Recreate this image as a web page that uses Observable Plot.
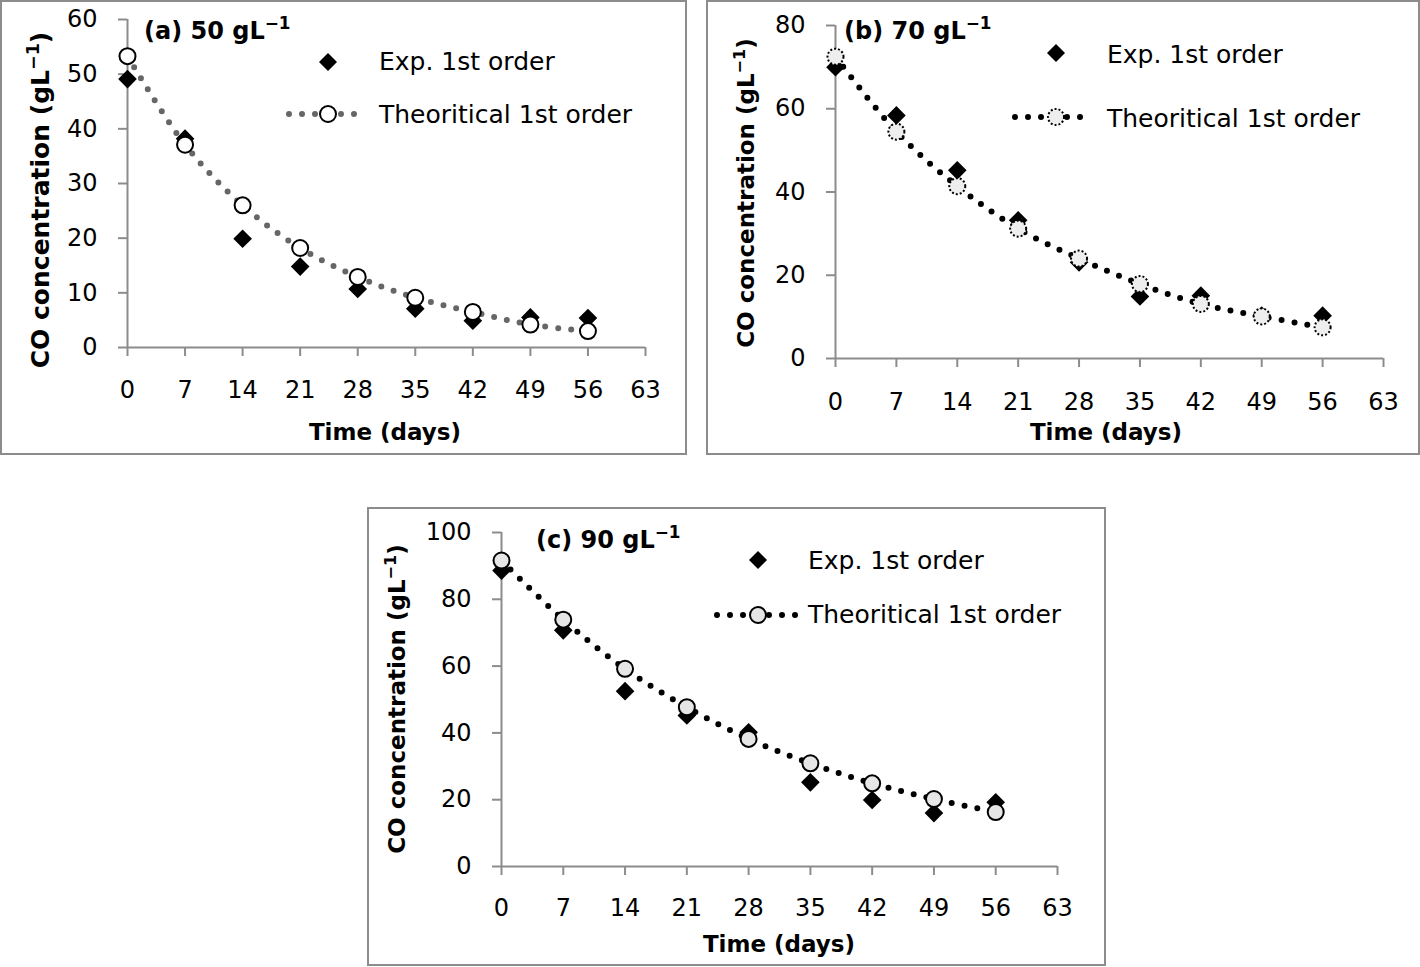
<!DOCTYPE html>
<html><head><meta charset="utf-8">
<script src="https://cdn.jsdelivr.net/npm/d3@7"></script>
<script src="https://cdn.jsdelivr.net/npm/@observablehq/plot@0.6"></script>
<style>
body{margin:0;background:#fff;}
#page{position:relative;width:1420px;height:967px;font-family:"DejaVu Sans",sans-serif;color:#000;overflow:hidden;}
.panel{position:absolute;}
.panel svg{position:absolute;left:0;top:0;}
.frame{position:absolute;left:0;top:0;right:0;bottom:0;border:2px solid #8c8c8c;box-sizing:border-box;pointer-events:none;}
.t{position:absolute;white-space:nowrap;line-height:1;}
.sup{font-size:0.7em;position:relative;top:-0.55em;}
</style></head><body><div id="page"></div>
<script>
// ---- data ----
const days = [0, 7, 14, 21, 28, 35, 42, 49, 56];
const xTicks = [0, 7, 14, 21, 28, 35, 42, 49, 56, 63];
const expA  = [49.1, 38.2, 19.9, 14.8, 10.7, 7.1, 4.9, 5.5, 5.4];
const theoA = [53.3, 37.1, 26.0, 18.2, 12.9, 9.1, 6.5, 4.2, 3.0];
const expB  = [70.0, 58.4, 45.2, 33.2, 23.1, 14.9, 15.1, 10.3, 10.3];
const theoB = [72.5, 54.5, 41.4, 31.2, 24.0, 17.9, 13.1, 10.1, 7.5];
const expC  = [88.6, 70.7, 52.5, 45.2, 40.2, 25.2, 19.9, 16.0, 19.2];
const theoC = [91.6, 73.9, 59.2, 47.7, 38.2, 30.9, 24.9, 20.2, 16.3];
const yTicksA = [0, 10, 20, 30, 40, 50, 60];
const yTicksB = [0, 20, 40, 60, 80];
const yTicksC = [0, 20, 40, 60, 80, 100];
const titles = ["(a) 50 gL", "(b) 70 gL", "(c) 90 gL"];
const supText = "\u22121";
const legendLabels = ["Exp. 1st order", "Theoritical 1st order"];
const xLabel = "Time (days)";
const yLabel = "CO concentration (gL";

// ---- layout ----
const FONT = "DejaVu Sans";
const panels = [
  {exp: expA, theo: theoA, yTicks: yTicksA, ymax: 60, title: titles[0],
   left: 0, top: 0, width: 687, height: 455, mL: 127, mR: 42, mT: 19, mB: 108, padX: 24,
   line: "#666666", cFill: "white", cDash: null,
   titleX: 144, titleB: 39, legX: 328, legTextX: 379, legY1: 62, legB1: 70, legY2: 114, legB2: 123, legL: 289, legR: 364,
   xlabX: 385, xlabB: 440, ylabX: 40, ylabY: 200, ylabFs: 25},
  {exp: expB, theo: theoB, yTicks: yTicksB, ymax: 80, title: titles[1],
   left: 706, top: 0, width: 714, height: 455, mL: 129, mR: 37, mT: 25, mB: 97, padX: 25,
   line: "#000000", cFill: "#eeeeee", cDash: "2 2",
   titleX: 844, titleB: 39, legX: 1056, legTextX: 1107, legY1: 53, legB1: 63, legY2: 117, legB2: 127, legL: 1015, legR: 1092,
   xlabX: 1106, xlabB: 440, ylabX: 746, ylabY: 193, ylabFs: 23},
  {exp: expC, theo: theoC, yTicks: yTicksC, ymax: 100, title: titles[2],
   left: 367, top: 507, width: 739, height: 459, mL: 134, mR: 49, mT: 25, mB: 100, padX: 23,
   line: "#000000", cFill: "#e6e6e6", cDash: null,
   titleX: 536, titleB: 548, legX: 758, legTextX: 808, legY1: 560, legB1: 569, legY2: 615, legB2: 623, legL: 717, legR: 797,
   xlabX: 779, xlabB: 952, ylabX: 397, ylabY: 699, ylabFs: 23}
];

const page = document.getElementById("page");
const ASC = 0.846; // baseline offset for line-height:1 (DejaVu Sans)

function addText(html, x, baseline, fs, weight, center) {
  const d = document.createElement("div");
  d.className = "t";
  d.style.fontSize = fs + "px";
  d.style.fontWeight = weight;
  d.style.left = x + "px";
  d.style.top = (baseline - ASC * fs) + "px";
  if (center) d.style.transform = "translateX(-50%)";
  d.innerHTML = html;
  page.appendChild(d);
  return d;
}

panels.forEach(p => {
  const rows = days.map((d, i) => ({day: d, exp: p.exp[i], theo: p.theo[i]}));
  const wrap = document.createElement("div");
  wrap.className = "panel";
  Object.assign(wrap.style, {left: p.left + "px", top: p.top + "px", width: p.width + "px", height: p.height + "px"});
  const chart = Plot.plot({
    width: p.width, height: p.height,
    marginLeft: p.mL, marginRight: p.mR, marginTop: p.mT, marginBottom: p.mB,
    style: {fontFamily: FONT, fontSize: "24px", color: "black", background: "transparent", overflow: "visible"},
    x: {domain: [0, 63]},
    y: {domain: [0, p.ymax]},
    marks: [
      Plot.axisX(xTicks, {tickSize: 9, tickPadding: p.padX, stroke: "#8c8c8c", strokeWidth: 2, fill: "black", fontSize: 24, label: null}),
      Plot.axisY(p.yTicks, {tickSize: 9, tickPadding: 21, stroke: "#8c8c8c", strokeWidth: 2, fill: "black", fontSize: 24, label: null}),
      Plot.ruleY([0], {stroke: "#8c8c8c", strokeWidth: 2}),
      Plot.ruleX([0], {stroke: "#8c8c8c", strokeWidth: 2}),
      Plot.dot(rows, {x: "day", y: "exp", symbol: "diamond2", r: 8.4, fill: "black", stroke: null}),
      Plot.line(rows, {x: "day", y: "theo", curve: "catmull-rom", stroke: p.line, strokeWidth: 6,
                       strokeDasharray: "0 13", strokeLinecap: "round"}),
      Plot.dot(rows, {x: "day", y: "theo", r: 8, stroke: "black", strokeWidth: 2, fill: p.cFill,
                      strokeDasharray: p.cDash})
    ]
  });
  wrap.appendChild(chart);
  const fr = document.createElement("div");
  fr.className = "frame";
  wrap.appendChild(fr);
  page.appendChild(wrap);

  // title
  addText(p.title + '<span class="sup">' + supText + '</span>', p.titleX, p.titleB, 24, "bold", false);
  // x label
  addText(xLabel, p.xlabX, p.xlabB, 23, "bold", true);
  // y label (rotated)
  const yl = document.createElement("div");
  yl.className = "t";
  yl.style.fontSize = p.ylabFs + "px";
  yl.style.fontWeight = "bold";
  yl.style.left = p.ylabX + "px";
  yl.style.top = p.ylabY + "px";
  yl.style.transform = "translate(-50%,-50%) rotate(-90deg)";
  yl.innerHTML = yLabel + '<span class="sup">' + supText + '</span>)';
  page.appendChild(yl);
  // legend text
  addText(legendLabels[0], p.legTextX, p.legB1, 25, "normal", false);
  addText(legendLabels[1], p.legTextX, p.legB2, 25, "normal", false);
  // legend swatches
  const ns = "http://www.w3.org/2000/svg";
  const sw = document.createElementNS(ns, "svg");
  sw.setAttribute("width", 1420); sw.setAttribute("height", 967);
  sw.style.position = "absolute"; sw.style.left = "0"; sw.style.top = "0"; sw.style.pointerEvents = "none";
  sw.innerHTML =
    `<path d="M0,-9L9,0L0,9L-9,0Z" transform="translate(${p.legX},${p.legY1})" fill="black"/>` +
    `<line x1="${p.legL}" x2="${p.legR}" y1="${p.legY2}" y2="${p.legY2}" stroke="${p.line}" stroke-width="6" stroke-dasharray="0 13" stroke-linecap="round"/>` +
    `<circle cx="${p.legX}" cy="${p.legY2}" r="8" fill="${p.cFill}" stroke="black" stroke-width="2" ${p.cDash ? `stroke-dasharray="${p.cDash}"` : ""}/>`;
  page.appendChild(sw);
});
</script>
</body></html>
